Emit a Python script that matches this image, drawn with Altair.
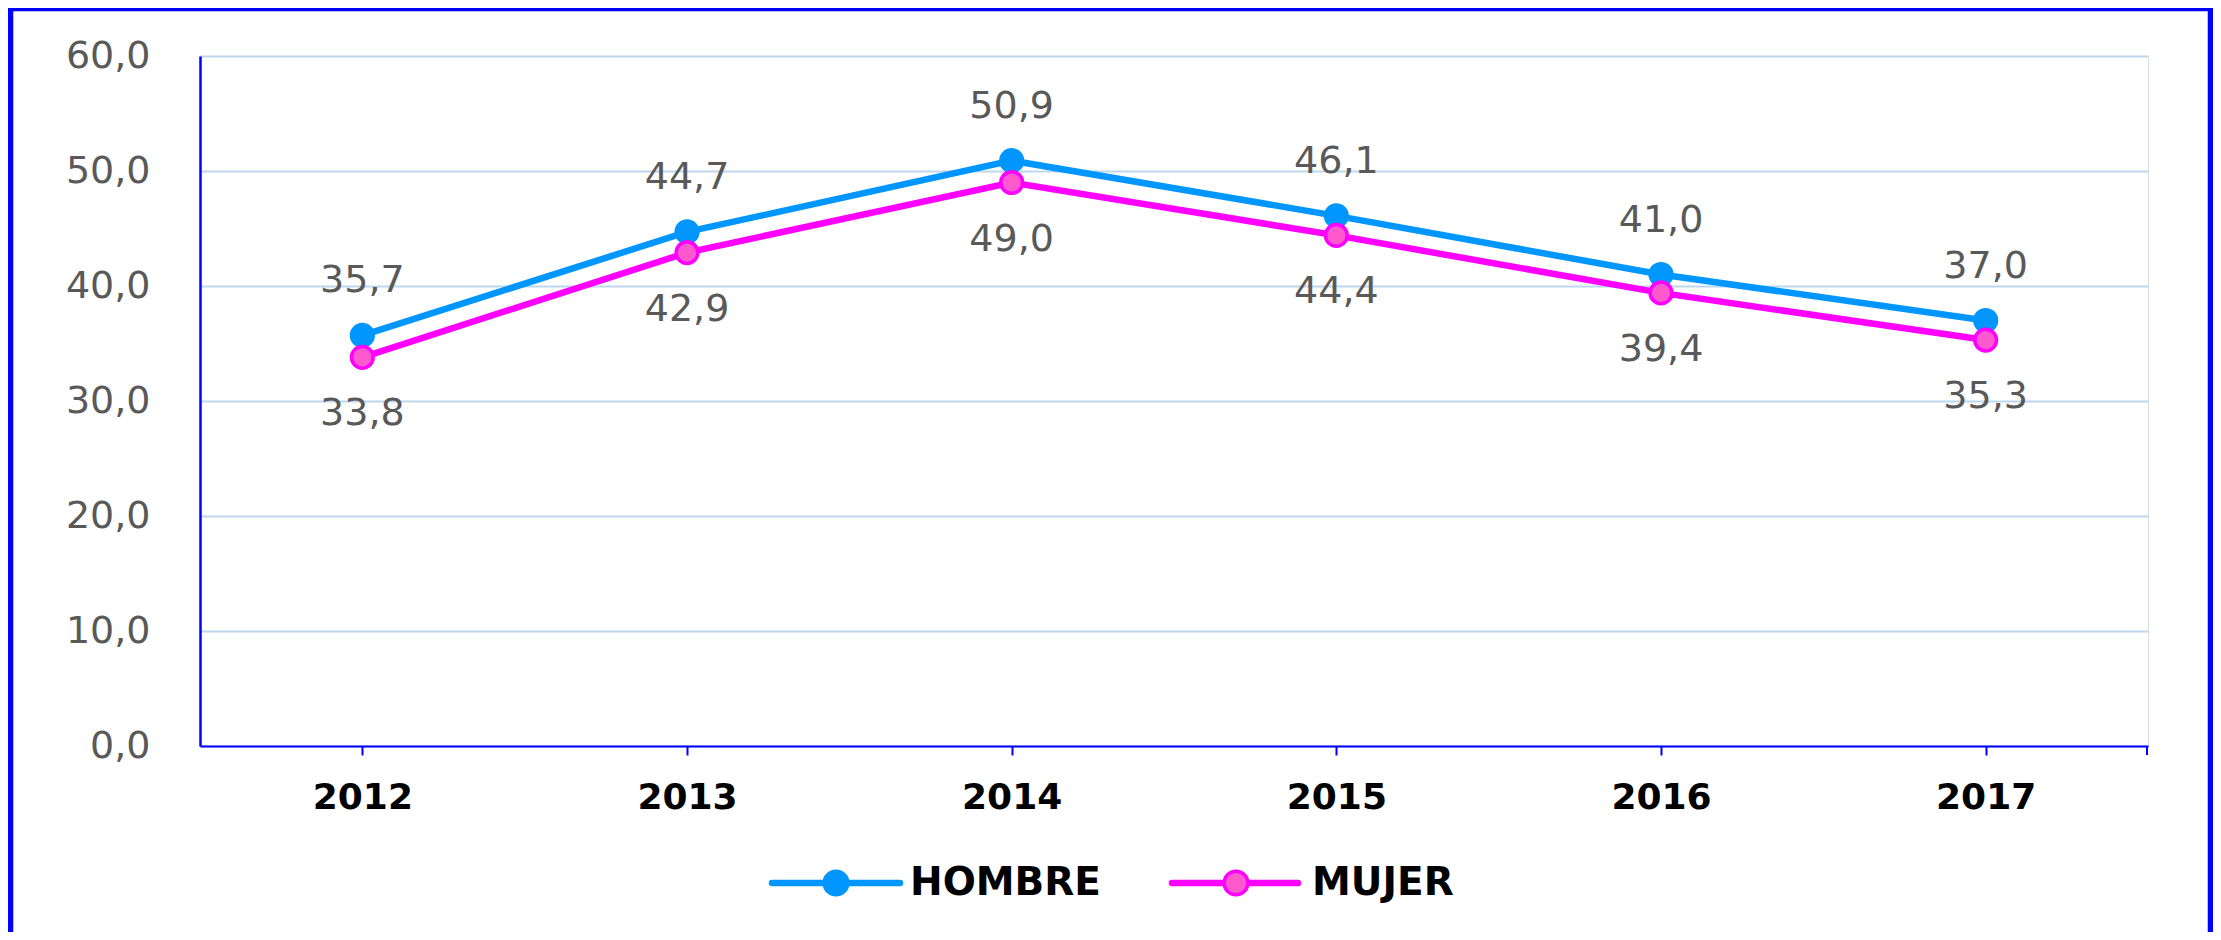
import altair as alt
import pandas as pd

years = ["2012", "2013", "2014", "2015", "2016", "2017"]
hombre = [35.7, 44.7, 50.9, 46.1, 41.0, 37.0]
mujer = [33.8, 42.9, 49.0, 44.4, 39.4, 35.3]
series_names = ["HOMBRE", "MUJER"]
y_ticks = [0, 10, 20, 30, 40, 50, 60]

BLUE = "#0096FF"
MAGENTA = "#FF00FF"
PINK_FILL = "#FF5ACD"
AXIS_BLUE = "#0000FF"
LABEL_GRAY = "#595959"

rows = []
for name, vals in zip(series_names, [hombre, mujer]):
    for yr, v in zip(years, vals):
        rows.append({"year": yr, "value": v, "serie": name})
df = pd.DataFrame(rows)

W, H = 1948, 690

x_enc = alt.X(
    "year:O",
    scale=alt.Scale(type="point", padding=0.5, domain=years),
    axis=alt.Axis(
        title=None, labelAngle=0, labelFont="DejaVu Sans", labelFontWeight="bold",
        labelFontSize=36, labelColor="#000000", labelPadding=25, labelBaseline="top",
        domainColor=AXIS_BLUE, domainWidth=2, tickColor=AXIS_BLUE, tickWidth=2, tickSize=9,
        grid=False,
    ),
)
y_enc = alt.Y(
    "value:Q",
    scale=alt.Scale(domain=[0, 60], nice=False, zero=True),
    axis=alt.Axis(
        title=None, values=y_ticks, labelExpr="replace(format(datum.value, '.1f'), '.', ',')",
        labelFont="DejaVu Sans", labelFontSize=38, labelColor=LABEL_GRAY, labelPadding=50,
        ticks=False, domainColor=AXIS_BLUE, domainWidth=2.5,
        grid=True, gridColor="#BDD7EE", gridWidth=2,
    ),
)

base = alt.Chart(df).encode(x=x_enc, y=y_enc)

layers = []
styles = {
    "HOMBRE": dict(color=BLUE, fill=BLUE, dy=-54),
    "MUJER": dict(color=MAGENTA, fill=PINK_FILL, dy=57),
}
for name in series_names:
    st = styles[name]
    sub = base.transform_filter(alt.datum.serie == name)
    layers.append(sub.mark_line(color=st["color"], strokeWidth=6.5))
for name in series_names:
    st = styles[name]
    sub = base.transform_filter(alt.datum.serie == name)
    layers.append(sub.mark_point(filled=True, fill=st["fill"], stroke=st["color"],
                                 strokeWidth=3.5, size=470, opacity=1, shape="circle"))
for name in series_names:
    st = styles[name]
    sub = base.transform_filter(alt.datum.serie == name).transform_calculate(
        lbl="replace(format(datum.value, '.1f'), '.', ',')"
    )
    layers.append(sub.mark_text(font="DejaVu Sans", fontSize=38, color=LABEL_GRAY,
                                dy=st["dy"], baseline="middle", align="center").encode(text="lbl:N"))

one = alt.Data(values=[{}])

# End tick on the x axis (decoration)
layers.append(alt.Chart(one).mark_rule(color=AXIS_BLUE, strokeWidth=2).encode(
    x=alt.value(W - 1), y=alt.value(H), y2=alt.value(H + 9)))

# Legend (decoration)
legend_items = [
    ("HOMBRE", BLUE, BLUE, 572, 700, 636, 710),
    ("MUJER", MAGENTA, PINK_FILL, 972, 1098, 1036, 1112),
]
LY = 827
for name, col, fill, x1, x2, xc, xt in legend_items:
    layers.append(alt.Chart(one).mark_rule(color=col, strokeWidth=6.5, strokeCap="round").encode(
        x=alt.value(x1), x2=alt.value(x2), y=alt.value(LY)))
    layers.append(alt.Chart(one).mark_point(filled=True, fill=fill, stroke=col, strokeWidth=3.5,
                                             size=560, opacity=1, shape="circle").encode(
        x=alt.value(xc), y=alt.value(LY)))
    layers.append(alt.Chart(one).mark_text(text=name, font="DejaVu Sans", fontWeight="bold", fontSize=39,
                                            color="#000000", align="left", baseline="middle").encode(
        x=alt.value(xt), y=alt.value(LY)))

# Outer border (decoration)
layers.append(alt.Chart(one).mark_rect(fill="transparent", stroke=AXIS_BLUE, strokeWidth=5.5).encode(
    x=alt.value(-189.5), x2=alt.value(2010.5), y=alt.value(-47.5), y2=alt.value(920)))

chart = alt.layer(*layers).properties(
    width=W, height=H,
    autosize=alt.AutoSizeParams(type="none"),
    padding={"left": 192, "top": 48, "right": 65, "bottom": 186},
).configure_view(stroke=None).configure(background="white")

chart.save("out.html", embed_options={"renderer": "svg", "actions": False})
